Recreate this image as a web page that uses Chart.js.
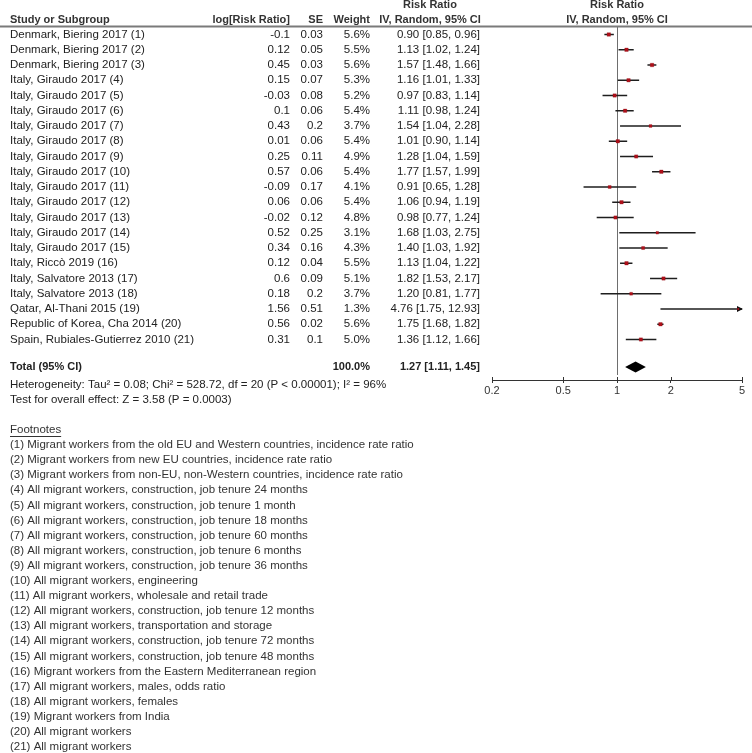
<!DOCTYPE html>
<html>
<head>
<meta charset="utf-8">
<script src="https://cdn.jsdelivr.net/npm/chart.js@4"></script>
<style>
  body { margin: 0; background: #fff; }
  canvas { display: block; }
</style>
</head>
<body>
<canvas id="forestChart" width="752" height="753"></canvas>
<script>
const studies = [
  'Denmark, Biering 2017 (1)', 'Denmark, Biering 2017 (2)', 'Denmark, Biering 2017 (3)',
  'Italy, Giraudo 2017 (4)', 'Italy, Giraudo 2017 (5)', 'Italy, Giraudo 2017 (6)',
  'Italy, Giraudo 2017 (7)', 'Italy, Giraudo 2017 (8)', 'Italy, Giraudo 2017 (9)',
  'Italy, Giraudo 2017 (10)', 'Italy, Giraudo 2017 (11)', 'Italy, Giraudo 2017 (12)',
  'Italy, Giraudo 2017 (13)', 'Italy, Giraudo 2017 (14)', 'Italy, Giraudo 2017 (15)',
  'Italy, Riccò 2019 (16)', 'Italy, Salvatore 2013 (17)', 'Italy, Salvatore 2013 (18)',
  'Qatar, Al-Thani 2015 (19)', 'Republic of Korea, Cha 2014 (20)', 'Spain, Rubiales-Gutierrez 2010 (21)'
];
const logRR = ['-0.1', '0.12', '0.45', '0.15', '-0.03', '0.1', '0.43', '0.01', '0.25', '0.57', '-0.09',
  '0.06', '-0.02', '0.52', '0.34', '0.12', '0.6', '0.18', '1.56', '0.56', '0.31'];
const se = ['0.03', '0.05', '0.03', '0.07', '0.08', '0.06', '0.2', '0.06', '0.11', '0.06', '0.17',
  '0.06', '0.12', '0.25', '0.16', '0.04', '0.09', '0.2', '0.51', '0.02', '0.1'];
const weights = [5.6, 5.5, 5.6, 5.3, 5.2, 5.4, 3.7, 5.4, 4.9, 5.4, 4.1, 5.4, 4.8, 3.1, 4.3, 5.5, 5.1, 3.7, 1.3, 5.6, 5.0];
const rr = [0.90, 1.13, 1.57, 1.16, 0.97, 1.11, 1.54, 1.01, 1.28, 1.77, 0.91, 1.06, 0.98, 1.68, 1.40, 1.13, 1.82, 1.20, 4.76, 1.75, 1.36];
const ciLow = [0.85, 1.02, 1.48, 1.01, 0.83, 0.98, 1.04, 0.90, 1.04, 1.57, 0.65, 0.94, 0.77, 1.03, 1.03, 1.04, 1.53, 0.81, 1.75, 1.68, 1.12];
const ciHigh = [0.96, 1.24, 1.66, 1.33, 1.14, 1.24, 2.28, 1.14, 1.59, 1.99, 1.28, 1.19, 1.24, 2.75, 1.92, 1.22, 2.17, 1.77, 12.93, 1.82, 1.66];
const total = { rr: 1.27, low: 1.11, high: 1.45 };
const xTicks = [0.2, 0.5, 1, 2, 5];
const footnotes = [
  '(1) Migrant workers from the old EU and Western countries, incidence rate ratio',
  '(2) Migrant workers from new EU countries, incidence rate ratio',
  '(3) Migrant workers from non-EU, non-Western countries, incidence rate ratio',
  '(4) All migrant workers, construction, job tenure 24 months',
  '(5) All migrant workers, construction, job tenure 1 month',
  '(6) All migrant workers, construction, job tenure 18 months',
  '(7) All migrant workers, construction, job tenure 60 months',
  '(8) All migrant workers, construction, job tenure 6 months',
  '(9) All migrant workers, construction, job tenure 36 months',
  '(10) All migrant workers, engineering',
  '(11) All migrant workers, wholesale and retail trade',
  '(12) All migrant workers, construction, job tenure 12 months',
  '(13) All migrant workers, transportation and storage',
  '(14) All migrant workers, construction, job tenure 72 months',
  '(15) All migrant workers, construction, job tenure 48 months',
  '(16) Migrant workers from the Eastern Mediterranean region',
  '(17) All migrant workers, males, odds ratio',
  '(18) All migrant workers, females',
  '(19) Migrant workers from India',
  '(20) All migrant workers',
  '(21) All migrant workers'
];

const TOTAL_ROW = 21.8;
const FONT = '"Liberation Sans", Arial, sans-serif';
const fmt = v => v.toFixed(2);

// draws CI whiskers, the line of no effect, the pooled diamond and the table text
const forestPlugin = {
  id: 'forest',
  beforeDatasetsDraw(chart) {
    const { ctx, chartArea } = chart;
    const x = chart.scales.x;
    const y = chart.scales.y;
    const x1 = x.getPixelForValue(1);
    ctx.save();
    ctx.strokeStyle = '#6e6e6e';
    ctx.lineWidth = 1;
    ctx.beginPath();
    ctx.moveTo(Math.round(x1) + 0.5, chartArea.top);
    ctx.lineTo(Math.round(x1) + 0.5, chartArea.bottom - 5);
    ctx.stroke();

    ctx.strokeStyle = '#1e1e1e';
    ctx.fillStyle = '#111';
    ctx.lineWidth = 1.5;
    rr.forEach((v, i) => {
      const yy = y.getPixelForValue(i);
      const lo = x.getPixelForValue(Math.max(ciLow[i], x.min));
      const clipped = ciHigh[i] > x.max;
      const hi = x.getPixelForValue(Math.min(ciHigh[i], x.max));
      ctx.beginPath();
      ctx.moveTo(lo, yy);
      ctx.lineTo(hi, yy);
      ctx.stroke();
      if (clipped) {
        ctx.beginPath();
        ctx.moveTo(hi + 1, yy);
        ctx.lineTo(hi - 5, yy - 3);
        ctx.lineTo(hi - 5, yy + 3);
        ctx.closePath();
        ctx.fill();
      }
    });

    const ty = y.getPixelForValue(TOTAL_ROW);
    ctx.fillStyle = '#000';
    ctx.beginPath();
    ctx.moveTo(x.getPixelForValue(total.low), ty);
    ctx.lineTo(x.getPixelForValue(total.rr), ty - 5.5);
    ctx.lineTo(x.getPixelForValue(total.high), ty);
    ctx.lineTo(x.getPixelForValue(total.rr), ty + 5.5);
    ctx.closePath();
    ctx.fill();
    ctx.restore();
  },
  afterDraw(chart) {
    const { ctx, chartArea } = chart;
    const x = chart.scales.x;
    const y = chart.scales.y;
    const x1 = x.getPixelForValue(1);
    ctx.save();

    // upper half of the axis tick marks
    ctx.strokeStyle = '#333';
    ctx.lineWidth = 1;
    xTicks.forEach(t => {
      const px = Math.round(x.getPixelForValue(t)) + 0.5;
      ctx.beginPath();
      ctx.moveTo(px, chartArea.bottom - 3);
      ctx.lineTo(px, chartArea.bottom);
      ctx.stroke();
    });

    ctx.textBaseline = 'middle';

    // header rule
    ctx.fillStyle = '#7a7a7a';
    ctx.fillRect(0, 25.5, 752, 2);

    ctx.fillStyle = '#333';
    ctx.font = 'bold 11px ' + FONT;
    ctx.textAlign = 'left';
    ctx.fillText('Study or Subgroup', 10, 20);
    ctx.textAlign = 'right';
    ctx.fillText('log[Risk Ratio]', 290, 20);
    ctx.fillText('SE', 323, 20);
    ctx.fillText('Weight', 370, 20);
    ctx.textAlign = 'center';
    ctx.fillText('Risk Ratio', 430, 5);
    ctx.fillText('IV, Random, 95% CI', 430, 20);
    ctx.fillText('Risk Ratio', x1, 5);
    ctx.fillText('IV, Random, 95% CI', x1, 20);

    ctx.fillStyle = '#222';
    ctx.font = '11.5px ' + FONT;
    studies.forEach((s, i) => {
      const yy = y.getPixelForValue(i);
      ctx.textAlign = 'left';
      ctx.fillText(s, 10, yy);
      ctx.textAlign = 'right';
      ctx.fillText(logRR[i], 290, yy);
      ctx.fillText(se[i], 323, yy);
      ctx.fillText(weights[i].toFixed(1) + '%', 370, yy);
      ctx.fillText(fmt(rr[i]) + ' [' + fmt(ciLow[i]) + ', ' + fmt(ciHigh[i]) + ']', 480, yy);
    });

    const ty = y.getPixelForValue(TOTAL_ROW);
    ctx.font = 'bold 11px ' + FONT;
    ctx.textAlign = 'left';
    ctx.fillText('Total (95% CI)', 10, ty);
    ctx.textAlign = 'right';
    ctx.fillText('100.0%', 370, ty);
    ctx.fillText(fmt(total.rr) + ' [' + fmt(total.low) + ', ' + fmt(total.high) + ']', 480, ty);

    ctx.font = '11.5px ' + FONT;
    ctx.textAlign = 'left';
    ctx.fillText('Heterogeneity: Tau\u00b2 = 0.08; Chi\u00b2 = 528.72, df = 20 (P < 0.00001); I\u00b2 = 96%', 10, 385);
    ctx.fillText('Test for overall effect: Z = 3.58 (P = 0.0003)', 10, 399.5);

    ctx.fillStyle = '#333';
    ctx.fillText('Footnotes', 10, 430);
    const w = ctx.measureText('Footnotes').width;
    ctx.fillRect(10, 436, w, 1);
    footnotes.forEach((f, i) => ctx.fillText(f, 10, 445 + i * 15.1));
    ctx.restore();
  }
};

const ctx = document.getElementById('forestChart').getContext('2d');

const forestChart = new Chart(ctx, {
  type: 'scatter',
  data: {
    datasets: [{
      data: rr.map((v, i) => ({ x: v, y: i })),
      pointStyle: 'rect',
      pointRadius: weights.map(w => 1.05 * Math.sqrt(w)),
      backgroundColor: '#b0101a',
      borderColor: '#8a0c14',
      borderWidth: 0.3
    }]
  },
  options: {
    responsive: false,
    animation: false,
    layout: { padding: { left: 492, right: 10, top: 26, bottom: 353 } },
    plugins: {
      legend: { display: false },
      tooltip: { enabled: false }
    },
    scales: {
      x: {
        type: 'logarithmic',
        min: 0.2,
        max: 5,
        afterBuildTicks(scale) {
          scale.ticks = xTicks.map(v => ({ value: v }));
        },
        afterFit(scale) {
          scale.height = 20;
        },
        ticks: {
          autoSkip: false,
          maxRotation: 0,
          padding: 1,
          color: '#333',
          font: { family: FONT, size: 11 },
          callback: v => String(v)
        },
        grid: { drawOnChartArea: false, drawTicks: true, tickLength: 3, color: '#333' },
        border: { display: true, color: '#333', width: 1 }
      },
      y: {
        type: 'linear',
        display: false,
        reverse: true,
        min: -0.557,
        max: 22.656
      }
    }
  },
  plugins: [forestPlugin]
});
</script>
</body>
</html>
